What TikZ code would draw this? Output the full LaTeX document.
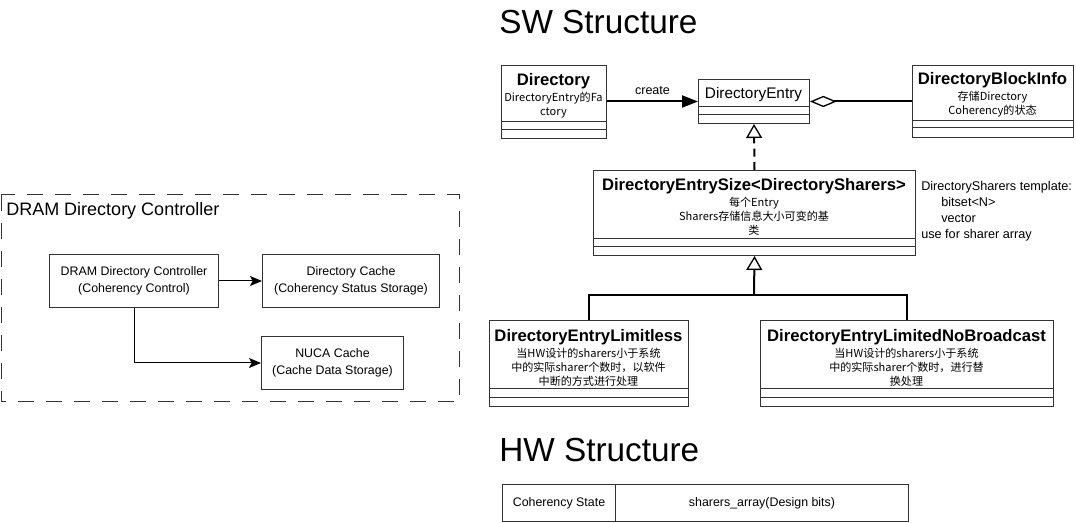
\documentclass[tikz,border=0pt]{standalone}
\usepackage{fontspec}
\setmainfont{Liberation Sans}
\newfontfamily\cjk{Noto Sans CJK SC}
\usetikzlibrary{arrows.meta}
\newcommand{\clsname}[1]{{\rmfamily\bfseries\fontsize{12.5}{15}\selectfont #1}}
\tikzset{
    classbox/.style = {rectangle, draw=black!80, line width=0.75pt, anchor=north west, inner sep=0pt},
    classtext/.style = {align=center, inner sep=0pt, font=\cjk\fontsize{8.3}{10.5}\selectfont},
    sepline/.style = {draw=black!80, line width=0.75pt},
    plainbox/.style = {rectangle, draw=black!80, line width=0.75pt, anchor=north west, inner sep=0pt, align=center, font=\fontsize{9.3}{12.75}\selectfont},
    heading/.style = {anchor=base west, inner sep=0pt, font=\fontsize{25}{30}\selectfont},
    edgec/.style = {-{Triangle[length=12pt,width=9pt]}, line width=1.5pt},
    edged/.style = {{Diamond[open,length=20pt,width=8.5pt,line width=1pt]}-, line width=1.5pt},
    edgei/.style = {-{Triangle[open,length=10.5pt,width=12pt,line width=1pt]}, line width=1.5pt},
    edgeid/.style = {edgei, dash pattern=on 6pt off 4pt}, % realization
    edgen/.style = {line width=1.5pt},
    edgea/.style = {-{Stealth[length=9pt,width=7.5pt,inset=2pt]}, line width=0.75pt}
}

\begin{document}
\begin{tikzpicture}[x=0.75pt,y=-0.75pt]
  \useasboundingbox (0,0) rectangle (1076,523);

  % SW structure
  \node[heading] (sw) at (499,34) {SW Structure};

  \node[classbox, minimum width=78.75pt, minimum height=54.75pt] (dir) at (501,65) {};
  \node[classtext] (dir-t) at (553.5,96) {\clsname{Directory}\\[1.5pt]DirectoryEntry的Fa\\ctory};
  \draw[sepline] (dir.west |- 0,122) -- (dir.east |- 0,122);
  \draw[sepline] (dir.west |- 0,130) -- (dir.east |- 0,130);

  \node[classbox, minimum width=83.25pt, minimum height=33pt] (dent) at (698,79) {};
  \node[inner sep=0pt, font=\fontsize{11.5}{14}\selectfont] (dent-t) at (753.5,95) {DirectoryEntry};
  \draw[sepline] (dent.west |- 0,107) -- (dent.east |- 0,107);
  \draw[sepline] (dent.west |- 0,115) -- (dent.east |- 0,115);

  \node[classbox, minimum width=120.75pt, minimum height=54pt] (dbi) at (912,65) {};
  \node[classtext] (dbi-t) at (992.5,95) {\clsname{DirectoryBlockInfo}\\[1.5pt]存储Directory\\Coherency的状态};
  \draw[sepline] (dbi.west |- 0,121) -- (dbi.east |- 0,121);
  \draw[sepline] (dbi.west |- 0,128) -- (dbi.east |- 0,128);

  \node[classbox, minimum width=241.5pt, minimum height=63.75pt] (dsz) at (593,170) {};
  \node[classtext] (dsz-t) at (754,207) {\clsname{DirectoryEntrySize<DirectorySharers>}\\[1.5pt]每个Entry\\Sharers存储信息大小可变的基\\类};
  \draw[sepline] (dsz.west |- 0,239) -- (dsz.east |- 0,239);
  \draw[sepline] (dsz.west |- 0,247) -- (dsz.east |- 0,247);

  \node[anchor=north west, inner sep=0pt, align=left, font=\fontsize{9.5}{12}\selectfont] (note) at (921,181)
    {DirectorySharers template:\\\hspace*{15pt}bitset<N>\\\hspace*{15pt}vector\\use for sharer array};

  \node[classbox, minimum width=149.25pt, minimum height=64.5pt] (dlim) at (489,320) {};
  \node[classtext] (dlim-t) at (588.5,358) {\clsname{DirectoryEntryLimitless}\\[1.5pt]当HW设计的sharers小于系统\\中的实际sharer个数时，以软件\\中断的方式进行处理};
  \draw[sepline] (dlim.west |- 0,389) -- (dlim.east |- 0,389);
  \draw[sepline] (dlim.west |- 0,398) -- (dlim.east |- 0,398);

  \node[classbox, minimum width=219.75pt, minimum height=64.5pt] (dlnb) at (760,320) {};
  \node[classtext] (dlnb-t) at (906.5,358) {\clsname{DirectoryEntryLimitedNoBroadcast}\\[1.5pt]当HW设计的sharers小于系统\\中的实际sharer个数时，进行替\\换处理};
  \draw[sepline] (dlnb.west |- 0,389) -- (dlnb.east |- 0,389);
  \draw[sepline] (dlnb.west |- 0,398) -- (dlnb.east |- 0,398);

  \coordinate (split) at (754,295);

  \draw[edgec] (dir.east |- dent.west) -- node[above=1pt, font=\fontsize{9.4}{11}\selectfont] (create) {create} (dent.west);
  \draw[edged] (dent.east) -- (dbi.west |- dent.east);
  \draw[edgeid] (dsz.north) -- (dent.south);
  \draw[edgei] (split) -- (dsz.south);
  \draw[edgen] (dlim.north) |- (split) -| (dlnb.north);

  % HW structure
  \node[heading] (hw) at (499,462) {HW Structure};
  \node[plainbox, minimum width=84.75pt, minimum height=27.75pt] (cs) at (502,484) {Coherency State};
  \node[plainbox, minimum width=219.75pt, minimum height=27.75pt] (sa) at (615,484) {sharers\_array(Design bits)};

  % DRAM directory controller
  \draw[draw=black!80, line width=0.75pt, dash pattern=on 12pt off 9pt] (1,195) rectangle (459,402);
  \node[anchor=base west, inner sep=0pt, font=\fontsize{13.5}{16}\selectfont] (ctrl) at (6,216) {DRAM Directory Controller};
  \node[plainbox, minimum width=126.75pt, minimum height=39.75pt] (b1) at (49,254) {DRAM Directory Controller\\(Coherency Control)};
  \node[plainbox, minimum width=132.75pt, minimum height=39.75pt] (b2) at (262,254) {Directory Cache\\(Coherency Status Storage)};
  \node[plainbox, minimum width=106.5pt, minimum height=39.75pt] (b3) at (261,336) {NUCA Cache\\(Cache Data Storage)};

  \draw[edgea] (b1.east) -- (b2.west);
  \draw[edgea] (b1.south) |- (b3.west);
\end{tikzpicture}
\end{document}
